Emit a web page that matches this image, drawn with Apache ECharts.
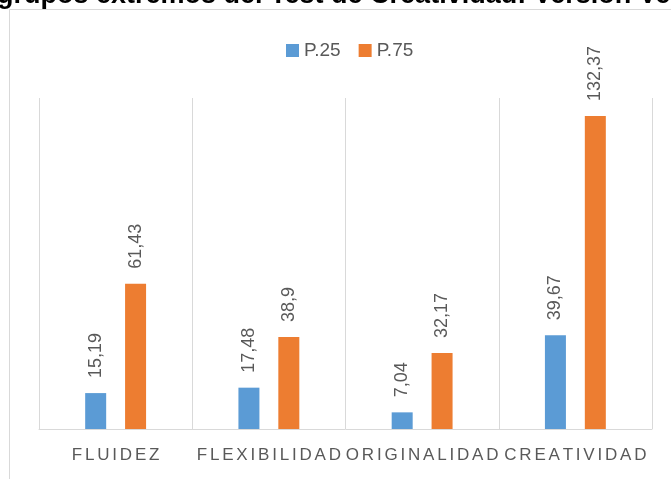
<!DOCTYPE html>
<html>
<head>
<meta charset="utf-8">
<script src="https://cdn.jsdelivr.net/npm/echarts@6/dist/echarts.min.js"></script>
<style>
html,body{margin:0;padding:0;background:#fff;}
#chart{width:671px;height:479px;}
</style>
</head>
<body>
<div id="chart"></div>
<script>
const categories = ['FLUIDEZ', 'FLEXIBILIDAD', 'ORIGINALIDAD', 'CREATIVIDAD'];
const seriesNames = ['P.25', 'P.75'];
const p25 = [15.19, 17.48, 7.04, 39.67];
const p75 = [61.43, 38.9, 32.17, 132.37];
const titleText = 'grupos extremos del Test de Creatividad: Versión Verbal';

const chart = echarts.init(document.getElementById('chart'), null, {renderer: 'canvas'});
const fmt = p => String(p.value).replace('.', ',');
const labelStyle = {
  show: true, position: 'top', rotate: 90, align: 'left', verticalAlign: 'middle',
  distance: 15, fontSize: 18, color: '#595959', fontFamily: 'Liberation Sans', formatter: fmt
};
chart.setOption({
  animation: false,
  backgroundColor: '#ffffff',
  graphic: [
    {type: 'rect', silent: true, shape: {x: 9.5, y: 9.5, width: 700, height: 500},
     style: {fill: 'none', stroke: '#d9d9d9', lineWidth: 1}},
    {type: 'text', silent: true, x: -3, y: -4,
     style: {text: titleText, font: 'bold 27px "Liberation Sans"', fill: '#000000',
             textAlign: 'left', textVerticalAlign: 'middle'}}
  ],
  legend: {
    data: seriesNames, left: 281, top: 36, icon: 'rect', itemWidth: 13, itemHeight: 13,
    itemGap: 18, textStyle: {fontSize: 19, color: '#595959', fontFamily: 'Liberation Sans'}
  },
  grid: {left: 39, right: 19, top: 98, bottom: 50},
  xAxis: {
    type: 'category', data: categories,
    axisLine: {lineStyle: {color: '#d9d9d9', width: 1}},
    axisTick: {show: false},
    splitLine: {show: true, lineStyle: {color: '#d9d9d9', width: 1}},
    axisLabel: {
      interval: 0, margin: 18,
      formatter: v => v.split('').map(c => '{a|' + c + '}').join(''),
      rich: {a: {fontSize: 17, color: '#595959', fontFamily: 'Liberation Sans', padding: [0, 1.4]}}
    }
  },
  yAxis: {type: 'value', min: 0, max: 140, show: false, splitLine: {show: false}},
  series: [
    {name: seriesNames[0], type: 'bar', data: p25, barWidth: 21, barGap: '90%',
     itemStyle: {color: '#5b9bd5'}, label: labelStyle},
    {name: seriesNames[1], type: 'bar', data: p75, barWidth: 21, barGap: '90%',
     itemStyle: {color: '#ed7d31'}, label: labelStyle}
  ]
});
</script>
</body>
</html>
